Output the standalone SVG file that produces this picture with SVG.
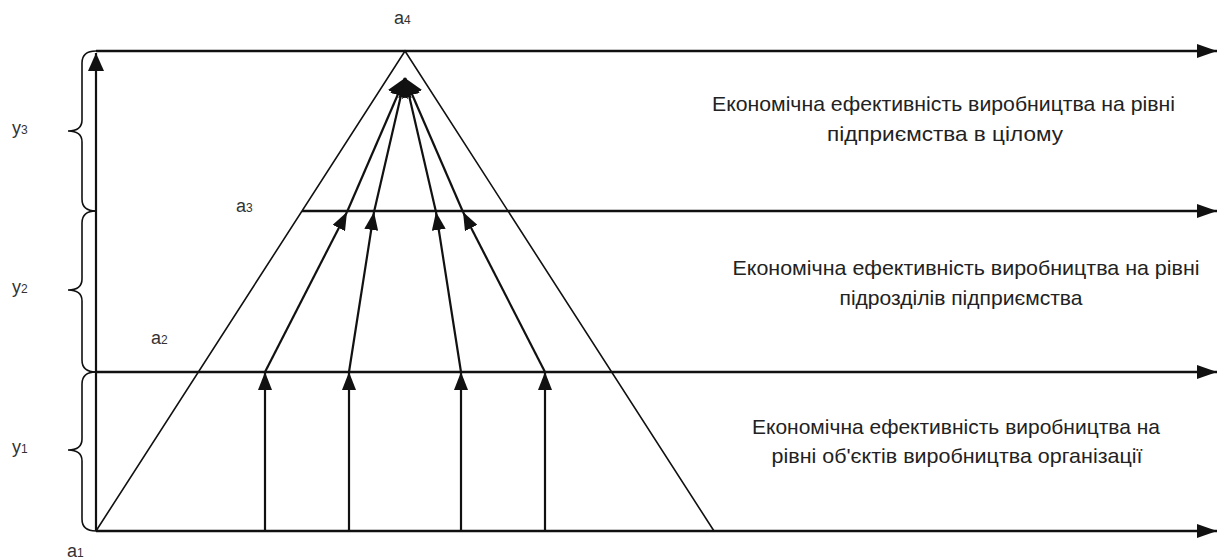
<svg xmlns="http://www.w3.org/2000/svg" width="1223" height="560" viewBox="0 0 1223 560">
<style>
.lvl{stroke:#111;stroke-width:2.6;fill:none}
.leg{stroke:#111;stroke-width:1.6;fill:none}
.arr{stroke:#111;stroke-width:2.2;fill:none}
.br{stroke:#111;stroke-width:1.6;fill:none}
.t{font-family:"Liberation Sans",Arial,sans-serif;font-size:21px;fill:#222}
.lab{font-family:"Liberation Sans",Arial,sans-serif;font-size:18px;fill:#333}
.sub{font-size:12px}
</style>
<defs>
<marker id="big" viewBox="0 0 20 14" refX="20" refY="7" markerWidth="20" markerHeight="14" orient="auto" markerUnits="userSpaceOnUse"><path d="M0,0 L20,7 L0,14 z" fill="#111"/></marker>
<marker id="sm" viewBox="0 0 18 14" refX="18" refY="7" markerWidth="18" markerHeight="14" orient="auto" markerUnits="userSpaceOnUse"><path d="M0,0 L18,7 L0,14 z" fill="#111"/></marker>
<marker id="tp" viewBox="0 0 18 16" refX="18" refY="8" markerWidth="18" markerHeight="16" orient="auto" markerUnits="userSpaceOnUse"><path d="M0,0 L18,8 L0,16 z" fill="#111"/></marker>
<marker id="ap" viewBox="0 0 18 22" refX="18" refY="11" markerWidth="18" markerHeight="22" orient="auto" markerUnits="userSpaceOnUse"><path d="M0,0 L18,11 L0,22 z" fill="#111"/></marker>
</defs>
<rect width="1223" height="560" fill="#fff"/>
<g id="levels">
<line class="lvl" x1="96" y1="51" x2="1217" y2="51" marker-end="url(#big)"/>
<line class="lvl" x1="302" y1="211" x2="1217" y2="211" marker-end="url(#big)"/>
<line class="lvl" x1="96" y1="372" x2="1217" y2="372" marker-end="url(#big)"/>
<line class="lvl" x1="96" y1="531" x2="1217" y2="531" marker-end="url(#big)"/>
</g>
<g id="triangle">
<polyline class="leg" points="96,531 405,51 714,531"/>
</g>
<g id="braces">
<path class="br" d="M96,51 Q82,51 82,63 L82,120 Q82,131 68,131 Q82,131 82,142 L82,199 Q82,211 96,211"/>
<path class="br" d="M96,211 Q82,211 82,223 L82,279 Q82,290 68,290 Q82,290 82,301 L82,360 Q82,372 96,372"/>
<path class="br" d="M96,372 Q82,372 82,384 L82,439 Q82,450 68,450 Q82,450 82,461 L82,519 Q82,531 96,531"/>
</g>
<g id="connectors">
<line class="arr" x1="96" y1="531" x2="96" y2="53" marker-end="url(#tp)"/>
<line class="arr" x1="265" y1="531" x2="265" y2="372" marker-end="url(#sm)"/>
<line class="arr" x1="349" y1="531" x2="349" y2="372" marker-end="url(#sm)"/>
<line class="arr" x1="461" y1="531" x2="461" y2="372" marker-end="url(#sm)"/>
<line class="arr" x1="545" y1="531" x2="545" y2="372" marker-end="url(#sm)"/>
<line class="arr" x1="265" y1="372" x2="347" y2="212" marker-end="url(#sm)"/>
<line class="arr" x1="349" y1="372" x2="374" y2="212" marker-end="url(#sm)"/>
<line class="arr" x1="461" y1="372" x2="436" y2="212" marker-end="url(#sm)"/>
<line class="arr" x1="545" y1="372" x2="463" y2="212" marker-end="url(#sm)"/>
<line class="arr" x1="347" y1="212" x2="405" y2="78" marker-end="url(#ap)"/>
<line class="arr" x1="374" y1="212" x2="405" y2="78" marker-end="url(#ap)"/>
<line class="arr" x1="436" y1="212" x2="405" y2="78" marker-end="url(#ap)"/>
<line class="arr" x1="463" y1="212" x2="405" y2="78" marker-end="url(#ap)"/>
</g>
<g id="labels" class="lab">
<text x="394" y="24">a<tspan class="sub">4</tspan></text>
<text x="236" y="212">a<tspan class="sub">3</tspan></text>
<text x="151" y="344">a<tspan class="sub">2</tspan></text>
<text x="67" y="557">a<tspan class="sub">1</tspan></text>
<text x="12" y="134">y<tspan class="sub">3</tspan></text>
<text x="12" y="293">y<tspan class="sub">2</tspan></text>
<text x="12" y="453">y<tspan class="sub">1</tspan></text>
</g>
<g id="level3-text" class="t" text-anchor="middle">
<text x="943.5" y="111" textLength="463" lengthAdjust="spacingAndGlyphs">Економічна ефективність виробництва на рівні</text>
<text x="945" y="141" textLength="236" lengthAdjust="spacingAndGlyphs">підприємства в цілому</text>
</g>
<g id="level2-text" class="t" text-anchor="middle">
<text x="966" y="275" textLength="467" lengthAdjust="spacingAndGlyphs">Економічна ефективність виробництва на рівні</text>
<text x="961" y="305" textLength="243" lengthAdjust="spacingAndGlyphs">підрозділів підприємства</text>
</g>
<g id="level1-text" class="t" text-anchor="middle">
<text x="956" y="434" textLength="408" lengthAdjust="spacingAndGlyphs">Економічна ефективність виробництва на</text>
<text x="957" y="463" textLength="371" lengthAdjust="spacingAndGlyphs">рівні об'єктів виробництва організації</text>
</g>
</svg>
